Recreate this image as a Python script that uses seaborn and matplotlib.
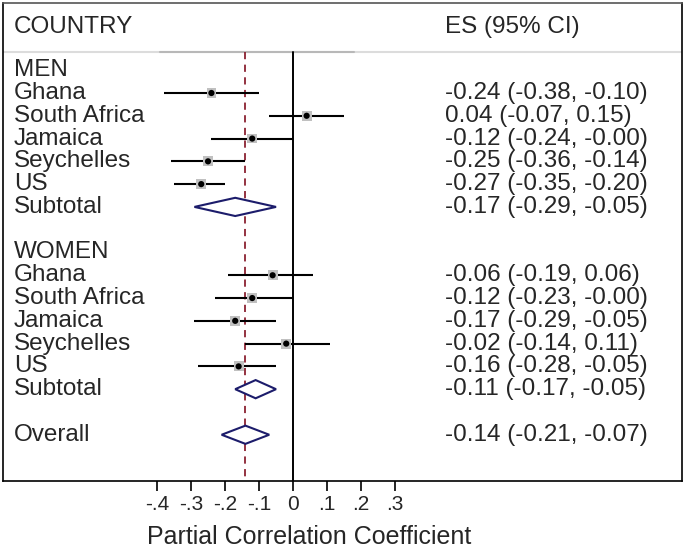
import numpy as np
import pandas as pd
import matplotlib
matplotlib.use('Agg')
import matplotlib.pyplot as plt
import matplotlib.transforms as mtransforms
import seaborn as sns

# Datos
paises = ['Ghana', 'South Africa', 'Jamaica', 'Seychelles', 'US']

hombres_es = [-0.24, 0.04, -0.12, -0.25, -0.27]
hombres_lo = [-0.38, -0.07, -0.24, -0.36, -0.35]
hombres_hi = [-0.10, 0.15, -0.00, -0.14, -0.20]

mujeres_es = [-0.06, -0.12, -0.17, -0.02, -0.16]
mujeres_lo = [-0.19, -0.23, -0.29, -0.14, -0.28]
mujeres_hi = [0.06, -0.00, -0.05, 0.11, -0.05]

subtotal_hombres = [-0.17, -0.29, -0.05]
subtotal_mujeres = [-0.11, -0.17, -0.05]
overall = [-0.14, -0.21, -0.07]

ticks = [-0.4, -0.3, -0.2, -0.1, 0.0, 0.1, 0.2, 0.3]
tick_labels = ['-.4', '-.3', '-.2', '-.1', '0', '.1', '.2', '.3']

# Tabla de estudios (fila = posicion vertical)
datos = pd.DataFrame({
    'pais': paises + paises,
    'es': hombres_es + mujeres_es,
    'lo': hombres_lo + mujeres_lo,
    'hi': hombres_hi + mujeres_hi,
    'fila': [1, 2, 3, 4, 5, 9, 10, 11, 12, 13],
})

resumenes = [('Subtotal', subtotal_hombres, 6),
             ('Subtotal', subtotal_mujeres, 14),
             ('Overall', overall, 16)]

sns.set_style('white')
plt.rcParams['font.family'] = ['Liberation Sans', 'DejaVu Sans']

fig = plt.figure(figsize=(6.85, 5.53), dpi=100)
ax = fig.add_axes([3 / 685, 72 / 553, 679 / 685, 478 / 553])

fs = 17.5
ax.set_xlim(-0.853, 1.144)
ax.set_ylim(18.03, -2.95)

# Lineas de cabecera y referencia
ax.axhline(-0.8, color='#dcdcdc', lw=1.5, zorder=1)
ax.plot([-0.39, 0.18], [-0.8, -0.8], color='#b8b8b8', lw=1.5, zorder=1)
ax.plot([0, 0], [-0.8, 18.03], color='black', lw=1.4, zorder=2)
ax.plot([overall[0], overall[0]], [-0.8, 18.03], color='#8b2232', lw=1.3,
        ls=(0, (4, 3)), zorder=2)

# Intervalos de confianza
ax.hlines(datos['fila'], datos['lo'], datos['hi'], color='black', lw=1.5, zorder=3)

# Cuadrados grises (pesos) y puntos
sns.scatterplot(data=datos, x='es', y='fila', marker='s', s=50, color='#c0c0c0',
                edgecolor='none', ax=ax, zorder=4, legend=False)
sns.scatterplot(data=datos, x='es', y='fila', marker='o', s=20, color='black',
                edgecolor='none', ax=ax, zorder=5, legend=False)

# Diamantes
for nombre, (es, lo, hi), fila in resumenes:
    ax.fill([lo, es, hi, es, lo], [fila, fila - 0.4, fila, fila + 0.4, fila],
            facecolor='white', edgecolor='#1c1c6b', lw=1.5, zorder=4)

# Textos
trans = mtransforms.blended_transform_factory(ax.transAxes, ax.transData)
x_nom = 0.0162
x_es = 0.651
ax.text(x_nom, -1.9, 'COUNTRY', transform=trans, va='center', fontsize=fs)
ax.text(x_es, -1.9, 'ES (95% CI)', transform=trans, va='center', fontsize=fs)
ax.text(x_nom, 0, 'MEN', transform=trans, va='center', fontsize=fs)
ax.text(x_nom, 8, 'WOMEN', transform=trans, va='center', fontsize=fs)

for _, r in datos.iterrows():
    ax.text(x_nom, r['fila'], r['pais'], transform=trans, va='center', fontsize=fs)
    ax.text(x_es, r['fila'], f"{r['es']:.2f} ({r['lo']:.2f}, {r['hi']:.2f})",
            transform=trans, va='center', fontsize=fs)

for nombre, (es, lo, hi), fila in resumenes:
    ax.text(x_nom, fila, nombre, transform=trans, va='center', fontsize=fs)
    ax.text(x_es, fila, f'{es:.2f} ({lo:.2f}, {hi:.2f})',
            transform=trans, va='center', fontsize=fs)

# Ejes
for lado in ['left', 'right', 'top', 'bottom']:
    ax.spines[lado].set_visible(True)
    ax.spines[lado].set_color('black')
    ax.spines[lado].set_linewidth(1.2)
ax.spines['top'].set_color('#555555')

ax.set_yticks([])
ax.set_xticks(ticks)
ax.set_xticklabels(tick_labels, fontsize=15)
ax.tick_params(axis='x', direction='out', length=7, width=1.2, pad=3,
               bottom=True, color='black')
ax.set_xlabel('Partial Correlation Coefficient', fontsize=18, labelpad=8)
ax.xaxis.label.set_x(0.4507)
ax.set_ylabel('')

fig.savefig('out.png', dpi=100)
